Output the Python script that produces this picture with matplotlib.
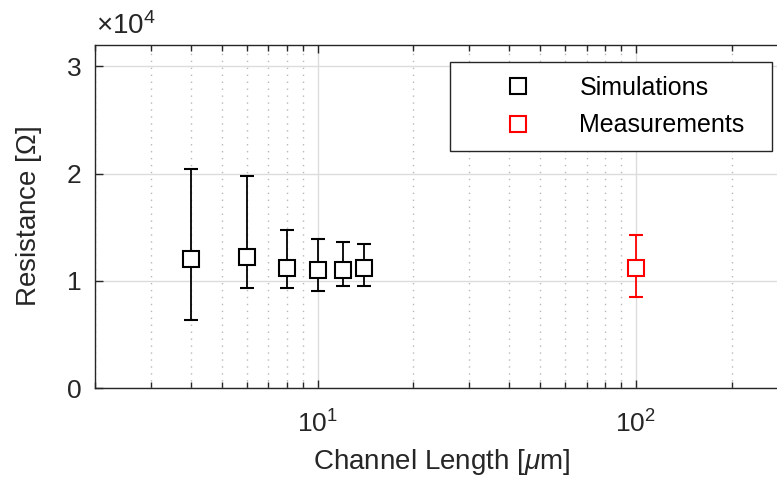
import matplotlib
matplotlib.use('Agg')
import matplotlib.pyplot as plt
from matplotlib.lines import Line2D
from matplotlib.ticker import FixedLocator, LogLocator, NullFormatter

plt.rcParams['font.family'] = ['Liberation Sans', 'DejaVu Sans']
plt.rcParams['mathtext.fontset'] = 'custom'
plt.rcParams['mathtext.rm'] = 'Liberation Sans'
plt.rcParams['mathtext.it'] = 'Liberation Sans:italic'

# simulations
sim_length = [4, 6, 8, 10, 12, 14]
sim_res = [12050, 12210, 11190, 11030, 11030, 11190]
sim_upper = [20470, 19750, 14730, 13860, 13640, 13390]
sim_lower = [6360, 9320, 9320, 9070, 9560, 9530]

# measurements
meas_length = [100]
meas_res = [11190]
meas_upper = [14300]
meas_lower = [8500]

fig = plt.figure(figsize=(7.77, 4.84), dpi=100)
ax = fig.add_axes([0.1223, 0.1983, 0.8915, 0.7087])
ax.set_xscale('log')

sim_err = [[r - l for r, l in zip(sim_res, sim_lower)],
           [u - r for r, u in zip(sim_res, sim_upper)]]
meas_err = [[r - l for r, l in zip(meas_res, meas_lower)],
            [u - r for r, u in zip(meas_res, meas_upper)]]

ax.errorbar(sim_length, sim_res, yerr=sim_err, fmt='s', color='black',
            mfc='white', mec='black', ms=11, mew=1.5, elinewidth=1.3,
            capsize=5, capthick=1.3, zorder=3)
ax.errorbar(meas_length, meas_res, yerr=meas_err, fmt='s', color='red',
            mfc='white', mec='red', ms=11, mew=1.5, elinewidth=1.3,
            capsize=5, capthick=1.3, zorder=3)

ax.set_xlim(2, 300)
ax.set_ylim(0, 32000)

ax.yaxis.set_major_locator(FixedLocator([0, 10000, 20000, 30000]))
ax.set_yticklabels(['0', '1', '2', '3'])
ax.xaxis.set_major_locator(LogLocator(base=10, numticks=10))
ax.xaxis.set_minor_locator(LogLocator(base=10, subs=range(2, 10), numticks=10))
ax.xaxis.set_minor_formatter(NullFormatter())

ax.tick_params(which='both', direction='in', top=True, right=True,
               labelsize=19, colors='#262626', width=1)
ax.tick_params(which='major', length=6)
ax.tick_params(which='minor', length=4)
ax.tick_params(axis='x', pad=16)
ax.tick_params(axis='y', pad=10)

ax.grid(True, which='major', color='#dcdcdc', linewidth=1, linestyle='-')
ax.grid(True, which='minor', axis='x', color='#b8b8b8', linewidth=1,
        linestyle=(0, (1, 4)))
ax.set_axisbelow(True)
for s in ax.spines.values():
    s.set_color('#262626')
    s.set_linewidth(1)

ax.set_xlabel(r'Channel Length [$\mu$m]', fontsize=20, color='#262626',
              labelpad=7)
ax.set_ylabel(r'Resistance [$\Omega$]', fontsize=20, color='#262626',
              labelpad=16)
fig.text(96 / 777, 1 - 40 / 484, r'$\times\mathregular{10^{4}}$', fontsize=20,
         color='#262626', ha='left', va='bottom')

handles = [
    Line2D([], [], linestyle='none', marker='s', ms=11, mfc='white',
           mec='black', mew=1.5),
    Line2D([], [], linestyle='none', marker='s', ms=11, mfc='white',
           mec='red', mew=1.5),
]
leg = ax.legend(handles, ['Simulations', 'Measurements'], loc='upper left',
                bbox_to_anchor=(450 / 777, 1 - 150 / 484, 322 / 777, 88 / 484),
                bbox_transform=fig.transFigure, borderaxespad=0, mode='expand',
                fontsize=18, fancybox=False, framealpha=1, edgecolor='#262626',
                handletextpad=0.28, borderpad=0.55, labelspacing=0.55,
                handlelength=4.35)
leg.get_frame().set_linewidth(1)

fig.savefig('out.png', dpi=100)
